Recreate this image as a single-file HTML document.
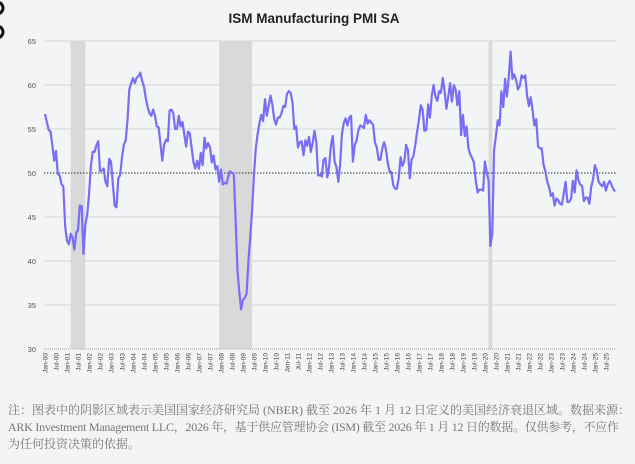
<!DOCTYPE html>
<html><head><meta charset="utf-8"><style>
html,body{margin:0;padding:0;background:#f3f4f6;}
body{width:635px;height:464px;overflow:hidden;position:relative;font-family:"Liberation Sans",sans-serif;}
.note{position:absolute;left:8px;top:402px;width:627px;font-family:"Liberation Serif","Noto Serif CJK SC",serif;font-size:12px;line-height:17px;color:#777;white-space:nowrap;}
</style></head><body>
<svg id="s" width="635" height="400" style="position:absolute;left:0;top:0">
<text x="314" y="23" text-anchor="middle" font-family="Liberation Sans" font-weight="bold" font-size="13.5" fill="#222">ISM Manufacturing PMI SA</text>
<circle cx="-3" cy="8" r="6" fill="none" stroke="#111" stroke-width="3"/>
<circle cx="-3" cy="32" r="6" fill="none" stroke="#111" stroke-width="3"/>
<g id="g"></g>
</svg>
<div class="note">注：图表中的阴影区域表示美国国家经济研究局 (NBER) 截至 2026 年 1 月 12 日定义的美国经济衰退区域。数据来源：<br><span style="letter-spacing:-0.25px">ARK Investment Management LLC，2026 年，基于供应管理协会 (ISM) 截至 2026 年 1 月 12 日的数据。仅供参考，不应作</span><br>为任何投资决策的依据。</div>
<script>
var d=[56.7,55.8,54.9,54.7,53.2,51.4,52.5,49.9,49.7,48.7,48.5,43.9,
42.3,41.9,43.1,42.7,41.3,43.2,43.5,46.3,46.2,40.8,44.1,45.3,
47.5,50.7,52.4,52.4,53.1,53.6,50.2,50.3,50.5,49.0,48.5,51.6,
51.3,48.8,46.3,46.1,49.4,49.8,51.8,53.2,53.7,56.0,59.5,60.2,
60.8,60.2,60.8,61.0,61.4,60.5,59.8,58.5,57.5,56.8,56.5,57.2,
56.5,55.3,55.2,53.3,51.4,53.2,53.8,53.6,57.1,57.2,56.8,55.0,
55.0,56.5,55.3,55.8,54.4,53.0,54.7,54.5,52.9,51.2,50.5,51.4,
50.5,52.3,50.9,54.0,52.8,53.4,52.9,51.2,52.0,50.4,50.8,49.0,
50.4,48.7,48.9,48.8,49.6,50.2,50.0,49.9,44.8,38.9,36.5,34.5,
35.6,35.8,36.3,40.1,42.8,45.8,49.9,52.8,54.4,55.7,56.6,55.9,
58.4,56.5,57.6,58.8,57.8,56.2,55.5,56.3,56.3,56.8,57.6,57.5,
59.0,59.3,59.1,58.0,55.0,55.3,52.9,53.5,53.6,52.0,53.7,53.1,
54.1,52.4,53.4,54.8,53.5,49.7,49.8,49.6,51.5,51.7,49.5,50.7,
53.1,54.2,51.3,50.7,49.0,50.9,54.4,55.7,56.2,55.4,56.3,56.5,
51.3,53.2,53.7,54.9,55.4,55.3,55.1,56.6,55.6,56.0,55.7,55.5,
53.5,52.9,51.5,51.5,52.8,53.5,52.7,51.1,50.2,50.1,48.6,48.2,
48.2,49.5,51.8,50.8,51.3,53.2,52.6,49.4,51.5,51.9,53.2,54.7,
56.0,57.7,57.2,54.8,54.9,57.8,56.3,58.8,60.0,58.7,58.2,59.3,
59.1,60.8,59.3,57.3,58.7,60.2,58.1,60.0,59.5,57.7,59.3,54.3,
56.6,54.2,55.3,52.8,52.1,51.7,51.2,49.1,47.8,48.1,48.1,48.0,
51.3,50.1,49.1,41.7,43.1,52.6,54.2,56.0,55.4,59.3,57.5,60.7,
58.7,60.8,63.8,60.7,61.2,60.6,59.5,59.9,61.1,60.8,61.1,58.8,
57.6,58.6,57.1,55.4,56.1,53.0,52.8,52.8,50.9,50.2,49.0,48.4,
47.4,47.7,46.3,47.1,46.9,46.5,46.4,47.6,49.0,46.7,46.7,47.1,
49.1,47.8,50.3,49.2,48.7,48.5,46.8,47.2,47.2,46.5,48.4,49.3,
50.9,50.3,49.0,48.7,48.5,49.0,48.0,48.7,49.1,48.7,48.2,47.9];
var X=m=>45+m*1.833, Y=v=>41+(65-v)*8.8;
var h='';
[[14,22],[95,113],[242,244]].forEach(r=>{h+=`<rect x="${X(r[0])}" y="41" width="${X(r[1])-X(r[0])}" height="308" fill="#d9d9da"/>`;});
[65,60,55,45,40,35].forEach(v=>{h+=`<line x1="44" x2="616" y1="${Y(v)}" y2="${Y(v)}" stroke="#d6d6d8" stroke-width="1"/>`;});
[65,60,55,50,45,40,35,30].forEach(v=>{h+=`<text x="36" y="${Y(v)+3}" text-anchor="end" font-size="7.5" fill="#555">${v}</text>`;});
h+=`<line x1="44" x2="616" y1="${Y(50)}" y2="${Y(50)}" stroke="#333" stroke-width="1" stroke-dasharray="1.5,1.5"/>`;
h+=`<line x1="44" x2="616" y1="349" y2="349" stroke="#bbb" stroke-width="1.5" stroke-dasharray="1,1"/>`;
var p=d.map((v,i)=>X(i).toFixed(1)+','+Y(v).toFixed(1)).join(' ');
h+=`<polyline points="${p}" fill="none" stroke="#7b6cf6" stroke-width="2.2" stroke-linejoin="round"/>`;
for(var k=0;k<52;k++){var yr=String(Math.floor(k/2)).padStart(2,'0');var lb=(k%2?'Jul-':'Jan-')+yr;var x=X(k*6)+2.5;
h+=`<text transform="translate(${x},353) rotate(-90)" text-anchor="end" font-size="6.5" fill="#444">${lb}</text>`;}
document.getElementById('g').innerHTML=h;
</script>
</body></html>
